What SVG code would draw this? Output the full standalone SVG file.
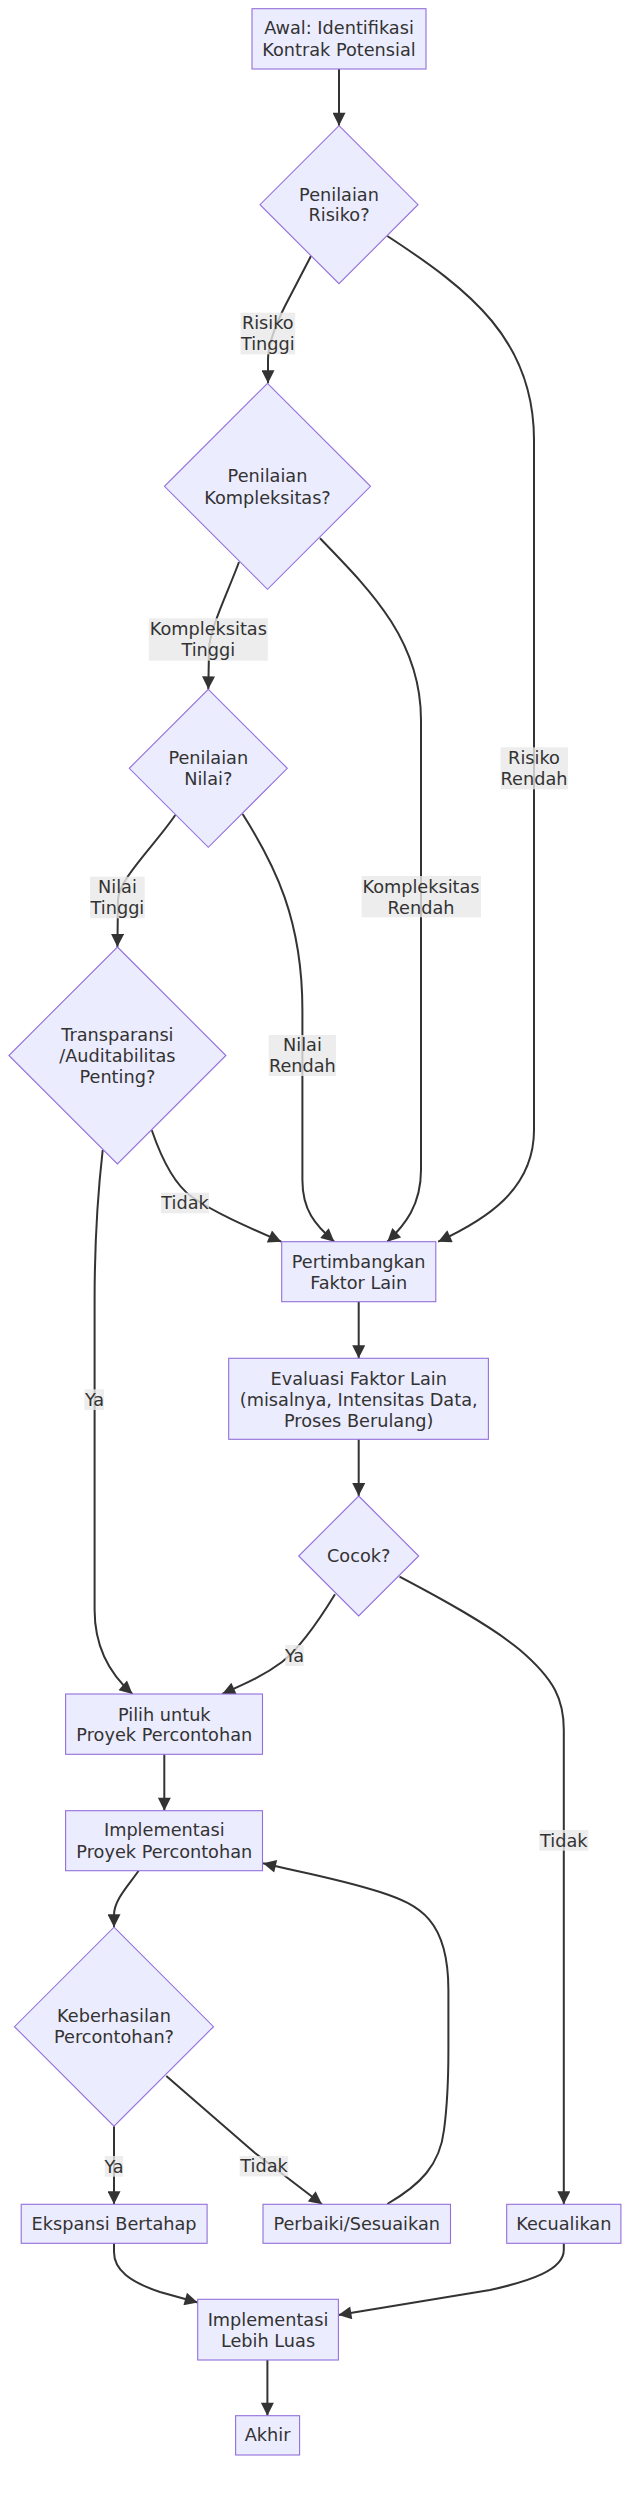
<svg xmlns="http://www.w3.org/2000/svg" width="640" height="2496" viewBox="0 0 640 2496">
<style>
.node rect,.node polygon{fill:#ECECFF;stroke:#9370DB;stroke-width:1.1}
text{font-family:"DejaVu Sans","Liberation Sans",sans-serif;font-size:17.7px;fill:#333;text-anchor:middle}
.edge{fill:none;stroke:#333;stroke-width:2;marker-end:url(#arrow)}
.lbl rect{fill:#e8e8e8;fill-opacity:0.8;stroke:none}
</style>
<defs>
<marker id="arrow" viewBox="0 0 10 10" refX="10" refY="5" markerUnits="userSpaceOnUse" markerWidth="14" markerHeight="13" orient="auto">
<path d="M0,0 L10,5 L0,10 z" fill="#333"/>
</marker>
</defs>
<rect width="640" height="2496" fill="#fff"/>
<g id="connectors">
<path class="edge" d="M339,69 L339,125.7"/>
<path class="edge" d="M311,256 L285,306 Q268,340 268,360 L268,383.3"/>
<path class="edge" d="M387.3,236 C470,290 534,340 534,440 L534,1130 C534,1190 485,1220 438.2,1241.7"/>
<path class="edge" d="M239,562 C228,592 209,630 209,650 L208.3,689.3"/>
<path class="edge" d="M320,538.3 C370,590 421,640 421,720 L421,1170 C421,1205 405,1225 387.3,1241.7"/>
<path class="edge" d="M175.3,815 C155,845 118,880 118,900 L117.4,947"/>
<path class="edge" d="M242.6,814 C275,865 302.4,920 302.4,1010 L302.4,1180 C302.4,1210 315,1225 334.3,1241.7"/>
<path class="edge" d="M151.7,1130 C162,1160 175,1185 192,1197 C215,1213 250,1228 281.3,1241.7"/>
<path class="edge" d="M102.7,1150 C97,1200 94.6,1250 94.6,1300 L94.6,1610 C94.6,1650 112,1676 132.5,1694"/>
<path class="edge" d="M358.7,1301.7 L358.7,1358.3"/>
<path class="edge" d="M358.7,1439.3 L358.7,1496"/>
<path class="edge" d="M335,1594.3 C318,1622 300,1648 282,1662 C262,1677 242,1685 222.2,1694"/>
<path class="edge" d="M399.5,1576.7 C440,1598 490,1625 520,1650 C555,1680 563.8,1700 563.8,1730 L563.8,2204.3"/>
<path class="edge" d="M164.3,1754.3 L164.3,1810.7"/>
<path class="edge" d="M138.6,1870.7 C128,1886 114,1900 114,1915 L114,1927.2"/>
<path class="edge" d="M114,2126.2 L114,2204.3"/>
<path class="edge" d="M166.3,2076 L255,2153 L322,2204.3"/>
<path class="edge" d="M387.3,2204 C420,2185 440,2165 444,2130 C448,2100 448.4,2080 448.4,2050 L448.4,1990 C448.4,1920 420,1905 380,1892 C340,1879 300,1872 263,1863.3"/>
<path class="edge" d="M114,2243.3 L114,2252 C114,2270 130,2282 160,2292 L197.7,2302.5"/>
<path class="edge" d="M563.8,2243.3 L563.8,2250 C563.8,2270 530,2281 490,2290 L338.4,2315"/>
<path class="edge" d="M267.4,2360 L267.4,2415.7"/>
</g>
<g id="edge-labels">
<g class="lbl"><rect x="240.5" y="312.7" width="54.7" height="41.6"/><text x="267.8" y="329">Risiko</text><text x="267.8" y="350.3">Tinggi</text></g>
<g class="lbl"><rect x="148.8" y="618.3" width="119" height="42.4"/><text x="208.3" y="635.3">Kompleksitas</text><text x="208.3" y="656.3">Tinggi</text></g>
<g class="lbl"><rect x="90" y="876.7" width="54.7" height="41.6"/><text x="117.4" y="893">Nilai</text><text x="117.4" y="914">Tinggi</text></g>
<g class="lbl"><rect x="268.7" y="1035" width="67.3" height="41"/><text x="302.4" y="1051.3">Nilai</text><text x="302.4" y="1072.3">Rendah</text></g>
<g class="lbl"><rect x="361.6" y="876" width="119.4" height="41.3"/><text x="421" y="893">Kompleksitas</text><text x="421" y="914">Rendah</text></g>
<g class="lbl"><rect x="500.6" y="747.3" width="67.3" height="42"/><text x="534" y="763.6">Risiko</text><text x="534" y="785.3">Rendah</text></g>
<g class="lbl"><rect x="161" y="1192.7" width="48" height="20.6"/><text x="185" y="1209.3">Tidak</text></g>
<g class="lbl"><rect x="84.4" y="1389.3" width="19.6" height="20.7"/><text x="94.6" y="1406">Ya</text></g>
<g class="lbl"><rect x="285.4" y="1645" width="18.3" height="21"/><text x="294.5" y="1661.8">Ya</text></g>
<g class="lbl"><rect x="539.3" y="1830" width="49" height="20.7"/><text x="563.8" y="1846.6">Tidak</text></g>
<g class="lbl"><rect x="104.8" y="2156" width="18.3" height="20.7"/><text x="114" y="2172.6">Ya</text></g>
<g class="lbl"><rect x="239.7" y="2156" width="48.5" height="20.4"/><text x="264" y="2172.3">Tidak</text></g>
</g>
<g id="start" class="node"><rect x="252" y="8.7" width="174" height="60.3"/><text x="339" y="34">Awal: Identifikasi</text><text x="339" y="55.6">Kontrak Potensial</text></g>
<g id="risiko" class="node"><polygon points="339,125.7 418,204.7 339,283.7 260,204.7"/><text x="339" y="200.6">Penilaian</text><text x="339" y="221.3">Risiko?</text></g>
<g id="kompleksitas" class="node"><polygon points="267.5,383.3 370.5,486.3 267.5,589.3 164.5,486.3"/><text x="267.5" y="482.3">Penilaian</text><text x="267.5" y="503.6">Kompleksitas?</text></g>
<g id="nilai" class="node"><polygon points="208.3,689.3 287.3,768.3 208.3,847.3 129.3,768.3"/><text x="208.3" y="763.6">Penilaian</text><text x="208.3" y="785.3">Nilai?</text></g>
<g id="transparansi" class="node"><polygon points="117.4,947 225.9,1055.5 117.4,1164 8.9,1055.5"/><text x="117.4" y="1040.6">Transparansi</text><text x="117.4" y="1062.3">/Auditabilitas</text><text x="117.4" y="1083">Penting?</text></g>
<g id="pertimbangkan" class="node"><rect x="281.7" y="1241.7" width="154.1" height="60"/><text x="358.7" y="1268">Pertimbangkan</text><text x="358.7" y="1289">Faktor Lain</text></g>
<g id="evaluasi" class="node"><rect x="228.7" y="1358.3" width="259.7" height="81"/><text x="358.7" y="1384.6">Evaluasi Faktor Lain</text><text x="358.7" y="1405.6">(misalnya, Intensitas Data,</text><text x="358.7" y="1427">Proses Berulang)</text></g>
<g id="cocok" class="node"><polygon points="358.7,1496 418.7,1556 358.7,1616 298.7,1556"/><text x="358.7" y="1562.3">Cocok?</text></g>
<g id="pilih" class="node"><rect x="65.6" y="1694" width="196.9" height="60.3"/><text x="164.3" y="1720.6">Pilih untuk</text><text x="164.3" y="1741.3">Proyek Percontohan</text></g>
<g id="implementasi" class="node"><rect x="65.6" y="1810.7" width="196.9" height="60"/><text x="164.3" y="1836.3">Implementasi</text><text x="164.3" y="1858">Proyek Percontohan</text></g>
<g id="keberhasilan" class="node"><polygon points="114,1927.2 213.5,2026.7 114,2126.2 14.5,2026.7"/><text x="114" y="2022.3">Keberhasilan</text><text x="114" y="2043">Percontohan?</text></g>
<g id="ekspansi" class="node"><rect x="21.2" y="2204.3" width="185.9" height="39"/><text x="114.1" y="2230.3">Ekspansi Bertahap</text></g>
<g id="perbaiki" class="node"><rect x="263" y="2204.3" width="187.5" height="39"/><text x="356.7" y="2230.3">Perbaiki/Sesuaikan</text></g>
<g id="kecualikan" class="node"><rect x="506.7" y="2204.3" width="114.2" height="39"/><text x="563.8" y="2230.3">Kecualikan</text></g>
<g id="luas" class="node"><rect x="197.7" y="2299.3" width="140.7" height="60.7"/><text x="268" y="2325.6">Implementasi</text><text x="268" y="2347">Lebih Luas</text></g>
<g id="akhir" class="node"><rect x="235.6" y="2415.7" width="64" height="39.3"/><text x="267.6" y="2441.3">Akhir</text></g>
</svg>
